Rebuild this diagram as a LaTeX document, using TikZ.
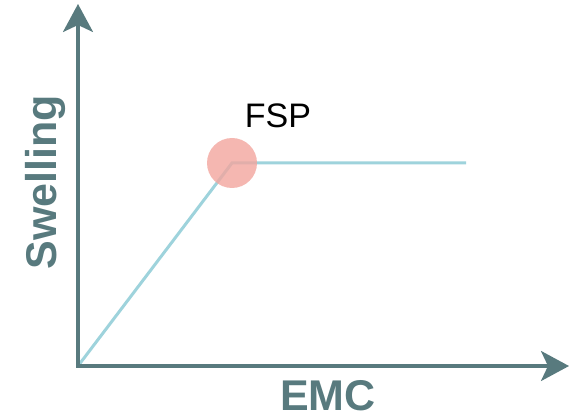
\documentclass[tikz,border=0pt]{standalone}
\usepackage{fontspec}
\setmainfont{Liberation Sans}
\usetikzlibrary{arrows.meta}
\definecolor{axiscol}{HTML}{587A7E}
\definecolor{curvecol}{HTML}{9ED3DC}
\definecolor{dotcol}{HTML}{F2A59E}
\tikzset{
  axisline/.style={draw=axiscol, line width=3.2pt, -{Stealth[length=28pt,width=30pt,inset=7pt]}},
  curveline/.style={draw=curvecol, line width=3pt, line join=miter},
  axislabel/.style={font=\fontsize{43}{43}\selectfont\bfseries, text=axiscol, inner sep=0pt},
}
\begin{document}
\begin{tikzpicture}[x=1pt,y=-1pt]
\useasboundingbox (0,0) rectangle (569,419);
\coordinate (O) at (78,366);
\coordinate (ytip) at (78,4);
\coordinate (xtip) at (569,366);
\coordinate (peak) at (232,163);
\coordinate (tail) at (466,163);
\draw[curveline] (O) -- (peak) -- (tail);
\node[circle, fill=dotcol, fill opacity=0.8, minimum size=50pt, inner sep=0pt] (fsp) at (peak) {};
\draw[axisline] ([xshift=-1.6pt]O) -- (xtip);
\draw[axisline] ([yshift=-1.6pt]O) -- (ytip);
\node[font=\fontsize{34}{34}\selectfont, inner sep=0pt] (fsplabel) at (278,116) {FSP};
\node[axislabel] (xlabel) at (328,396) {EMC};
\node[axislabel, rotate=90] (ylabel) at (45,182) {Swelling};
\end{tikzpicture}
\end{document}
